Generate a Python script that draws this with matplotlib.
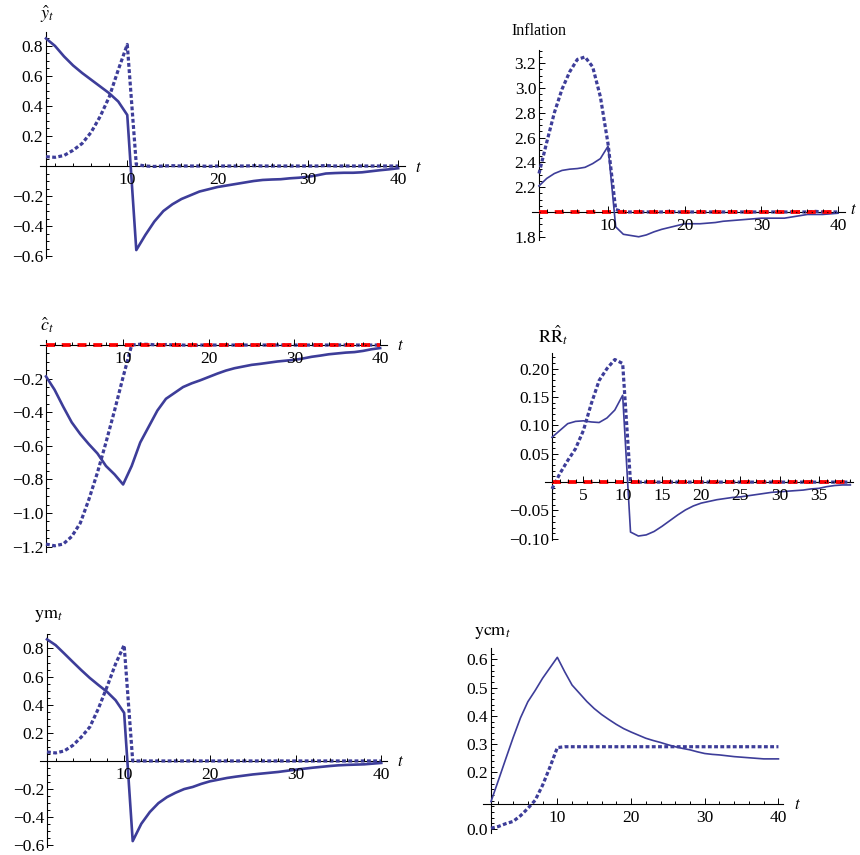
"""
Six impulse-response panels (Mathematica look): solid / dotted paths,
red dash-dot flexible-price benchmark sitting on the zero line.
"""

import matplotlib
matplotlib.use("Agg")
import matplotlib.pyplot as plt
from matplotlib.ticker import FixedLocator

plt.rcParams["font.family"] = ["Liberation Serif", "DejaVu Serif"]
plt.rcParams["mathtext.fontset"] = "stix"

# ---------------------------------------------------------------------------
# Data
# ---------------------------------------------------------------------------
t40 = list(range(1, 41))
t39 = list(range(1, 40))

# output gap y-hat
y_solid = [0.85, 0.80, 0.73, 0.67, 0.62, 0.575, 0.53, 0.485, 0.43, 0.34,
           -0.56, -0.46, -0.37, -0.30, -0.255, -0.22, -0.195, -0.17, -0.155, -0.14,
           -0.13, -0.12, -0.11, -0.10, -0.093, -0.09, -0.088, -0.082, -0.078, -0.072,
           -0.062, -0.05, -0.047, -0.045, -0.045, -0.042, -0.035, -0.028, -0.022, -0.015]
y_dotted = [0.062, 0.058, 0.07, 0.105, 0.15, 0.225, 0.33, 0.46, 0.64, 0.81,
            0.01, 0.0, -0.003, 0.0, 0.002, 0.0, 0.0, 0.0, -0.002, 0.0,
            0.0, 0.0, 0.0, 0.002, 0.0, 0.0, 0.0, 0.0, 0.0, 0.0,
            0.0, 0.003, 0.0, 0.0, 0.0, 0.0, 0.0, 0.0, 0.0, 0.0]

# inflation
pi_solid = [2.21, 2.27, 2.31, 2.335, 2.345, 2.35, 2.36, 2.39, 2.43, 2.53,
            1.88, 1.82, 1.81, 1.80, 1.815, 1.84, 1.86, 1.875, 1.89, 1.905,
            1.905, 1.905, 1.91, 1.915, 1.925, 1.93, 1.935, 1.94, 1.945, 1.95,
            1.95, 1.95, 1.95, 1.96, 1.97, 1.98, 1.98, 1.98, 1.985, 1.99]
pi_dotted = [2.31, 2.56, 2.80, 2.99, 3.13, 3.23, 3.25, 3.17, 2.93, 2.55,
             2.02, 2.0, 2.0, 2.0, 2.0, 2.0, 2.0, 2.005, 2.0, 2.0,
             2.0, 2.0, 2.0, 2.0, 2.0, 2.0, 2.0, 2.0, 2.0, 2.0,
             2.0, 2.0, 2.0, 2.0, 2.0, 2.0, 2.005, 2.0, 2.0, 2.0]
pi_flex = [2.0, 2.0, 2.0, 2.0, 2.0, 2.0, 2.0, 2.0, 2.0, 2.0,
           2.0, 2.0, 2.0, 2.0, 2.0, 2.0, 2.0, 2.0, 2.0, 2.0,
           2.0, 2.0, 2.0, 2.0, 2.0, 2.0, 2.0, 2.0, 2.0, 2.0,
           2.0, 2.0, 2.0, 2.0, 2.0, 2.0, 2.0, 2.0, 2.0, 2.0]

# consumption c-hat
c_solid = [-0.187, -0.266, -0.366, -0.46, -0.53, -0.59, -0.645, -0.72, -0.77, -0.83,
           -0.72, -0.58, -0.485, -0.39, -0.32, -0.285, -0.25, -0.228, -0.21, -0.19,
           -0.17, -0.152, -0.138, -0.128, -0.118, -0.112, -0.105, -0.098, -0.093, -0.088,
           -0.08, -0.07, -0.063, -0.055, -0.05, -0.045, -0.042, -0.035, -0.025, -0.018]
c_dotted = [-1.185, -1.195, -1.185, -1.14, -1.06, -0.92, -0.76, -0.58, -0.39, -0.19,
            0.0, 0.005, 0.004, 0.0, 0.003, 0.0, 0.0, -0.003, 0.0, 0.0,
            0.0, 0.0, 0.0, 0.0, 0.0, 0.0, 0.0, 0.0, 0.0, 0.0,
            0.0, 0.0, 0.0, 0.0, 0.0, 0.0, 0.0, 0.0, 0.0, 0.0]
c_flex = [0.0, 0.0, 0.0, 0.0, 0.0, 0.0, 0.0, 0.0, 0.0, 0.0,
          0.0, 0.0, 0.0, 0.0, 0.0, 0.0, 0.0, 0.0, 0.0, 0.0,
          0.0, 0.0, 0.0, 0.0, 0.0, 0.0, 0.0, 0.0, 0.0, 0.0,
          0.0, 0.0, 0.0, 0.0, 0.0, 0.0, 0.0, 0.0, 0.0, 0.0]

# real rate RR-hat (39 periods)
rr_solid = [0.079, 0.091, 0.103, 0.107, 0.108, 0.106, 0.105, 0.113, 0.127, 0.153,
            -0.088, -0.095, -0.093, -0.087, -0.078, -0.068, -0.058, -0.049, -0.042, -0.037,
            -0.034, -0.031, -0.029, -0.027, -0.026, -0.024, -0.022, -0.020, -0.018, -0.017,
            -0.016, -0.015, -0.014, -0.012, -0.011, -0.008, -0.006, -0.005, -0.005]
rr_dotted = [-0.012, 0.015, 0.038, 0.059, 0.091, 0.138, 0.179, 0.20, 0.216, 0.209,
             0.0, 0.0, 0.0, 0.0, 0.0, 0.0, 0.0, 0.0, 0.0, 0.0,
             0.0, 0.0, 0.0, 0.0, 0.0, 0.0, 0.0, 0.0, 0.0, 0.0,
             0.0, 0.0, 0.0, 0.0, 0.0, 0.0, 0.0, 0.0, 0.0]
rr_flex = [0.0, 0.0, 0.0, 0.0, 0.0, 0.0, 0.0, 0.0, 0.0, 0.0,
           0.0, 0.0, 0.0, 0.0, 0.0, 0.0, 0.0, 0.0, 0.0, 0.0,
           0.0, 0.0, 0.0, 0.0, 0.0, 0.0, 0.0, 0.0, 0.0, 0.0,
           0.0, 0.0, 0.0, 0.0, 0.0, 0.0, 0.0, 0.0, 0.0]

# ym
ym_solid = [0.865, 0.824, 0.765, 0.705, 0.646, 0.59, 0.54, 0.492, 0.432, 0.342,
            -0.57, -0.447, -0.363, -0.30, -0.257, -0.226, -0.20, -0.185, -0.163, -0.145,
            -0.133, -0.121, -0.112, -0.104, -0.096, -0.09, -0.084, -0.078, -0.07, -0.062,
            -0.055, -0.048, -0.042, -0.036, -0.031, -0.028, -0.026, -0.024, -0.019, -0.014]
ym_dotted = [0.064, 0.057, 0.071, 0.11, 0.17, 0.242, 0.373, 0.527, 0.69, 0.824,
             0.0, 0.0, 0.0, 0.0, 0.0, 0.0, 0.0, 0.0, 0.0, 0.0,
             0.0, 0.0, 0.0, 0.0, 0.0, 0.0, 0.0, 0.0, 0.0, 0.0,
             0.0, 0.0, 0.0, 0.0, 0.0, 0.0, 0.0, 0.0, 0.0, 0.0]

# ycm
ycm_solid = [0.097, 0.172, 0.248, 0.323, 0.393, 0.45, 0.49, 0.533, 0.57, 0.607,
             0.556, 0.509, 0.48, 0.451, 0.426, 0.405, 0.387, 0.37, 0.355, 0.343,
             0.332, 0.321, 0.313, 0.306, 0.298, 0.291, 0.285, 0.28, 0.273, 0.267,
             0.264, 0.262, 0.259, 0.256, 0.254, 0.252, 0.25, 0.248, 0.248, 0.248]
ycm_dotted = [0.003, 0.009, 0.019, 0.027, 0.047, 0.073, 0.102, 0.155, 0.219, 0.288,
              0.291, 0.291, 0.291, 0.291, 0.291, 0.291, 0.291, 0.291, 0.291, 0.291,
              0.291, 0.291, 0.291, 0.291, 0.291, 0.291, 0.291, 0.291, 0.291, 0.291,
              0.291, 0.291, 0.291, 0.291, 0.291, 0.291, 0.291, 0.291, 0.291, 0.291]

# ---------------------------------------------------------------------------
# Styling helpers
# ---------------------------------------------------------------------------
W, H = 860, 855
BLUE = (0.24, 0.24, 0.6)
DOT = (0, (1.2, 0.75))
RED_DASH = (0, (2.4, 1.8))


def fmt_tick(v, nd):
    s = f"{abs(v):.{nd}f}"
    return ("\u2212" + s) if v < 0 else s


def make_axes(fig, box, xlim, ylim, origin, xmajor, xminor, ymajor, yminor, nd):
    left, top, right, bottom = box
    ax = fig.add_axes([left / W, 1 - bottom / H, (right - left) / W, (bottom - top) / H])
    ax.patch.set_alpha(0)
    ax.set_xlim(xlim)
    ax.set_ylim(ylim)
    for s in ("top", "right"):
        ax.spines[s].set_visible(False)
    ax.spines["left"].set_position(("data", 1))
    ax.spines["bottom"].set_position(("data", origin))
    for s in ("left", "bottom"):
        ax.spines[s].set_linewidth(0.8)
        ax.spines[s].set_zorder(2)
    ax.xaxis.set_major_locator(FixedLocator(xmajor))
    ax.xaxis.set_minor_locator(FixedLocator(xminor))
    ax.yaxis.set_major_locator(FixedLocator(ymajor))
    ax.yaxis.set_minor_locator(FixedLocator(yminor))
    ax.set_xticklabels([str(v) for v in xmajor])
    ax.set_yticklabels([fmt_tick(v, nd) for v in ymajor])
    ax.tick_params(which="both", direction="in", width=0.7, labelsize=12.5)
    ax.tick_params(axis="y", pad=2)
    ax.tick_params(axis="x", pad=4.5)
    ax.tick_params(which="major", length=4.5)
    ax.tick_params(which="minor", length=2.5)
    # ticks drawn over the curves, as in the original
    ax.xaxis.set_zorder(6)
    return ax


def zero_line(ax, t, vals):
    ax.plot(t, vals, color="red", lw=2.7, ls=RED_DASH, zorder=5)
    ax.plot(t, vals, color="black", lw=0.8, ls=(0, (1, 6)), zorder=5)


def px_text(fig, x, y, s, **kw):
    fig.text(x / W, 1 - y / H, s, **kw)


def steps(a, b, d):
    out = []
    v = a
    while v <= b + 1e-9:
        out.append(round(v, 4))
        v += d
    return out


fig = plt.figure(figsize=(8.6, 8.55), dpi=100)
xmaj = [10, 20, 30, 40]
xmin = steps(2, 40, 2)

# --- y-hat ---------------------------------------------------------------
ax = make_axes(fig, (40, 32, 405, 258), (0.336, 40.76), (-0.613, 0.893), 0.0,
               xmaj, xmin, [-0.6, -0.4, -0.2, 0.2, 0.4, 0.6, 0.8],
               steps(-0.6, 0.85, 0.05), 1)
ax.plot(t40, y_dotted, color=BLUE, lw=2.3, ls=DOT, zorder=3)
ax.plot(t40, y_solid, color=BLUE, lw=1.9, zorder=4)
px_text(fig, 40, 14, r"$\hat{y}_t$", fontsize=13, va="center")
px_text(fig, 415, 168, r"$t$", fontsize=12, va="center")

# --- inflation -------------------------------------------------------------
ax = make_axes(fig, (532, 50, 845, 240), (0.087, 40.9), (1.774, 3.306), 2.0,
               xmaj, xmin, [1.8, 2.2, 2.4, 2.6, 2.8, 3.0, 3.2],
               steps(1.8, 3.3, 0.05), 1)
ax.plot(t40, pi_dotted, color=BLUE, lw=2.3, ls=DOT, zorder=3)
ax.plot(t40, pi_solid, color=BLUE, lw=1.2, zorder=4)
zero_line(ax, t40, pi_flex)
px_text(fig, 511, 31, "Inflation", fontsize=11.5, va="center")
px_text(fig, 850, 210, r"$t$", fontsize=12, va="center")

# --- c-hat -----------------------------------------------------------------
ax = make_axes(fig, (40, 340, 387, 552), (0.30, 40.8), (-1.232, 0.03), 0.0,
               xmaj, xmin, [-1.2, -1.0, -0.8, -0.6, -0.4, -0.2],
               steps(-1.2, 0.0, 0.05), 1)
ax.plot(t40, c_dotted, color=BLUE, lw=2.3, ls=DOT, zorder=3)
ax.plot(t40, c_solid, color=BLUE, lw=1.9, zorder=4)
zero_line(ax, t40, c_flex)
px_text(fig, 40, 325, r"$\hat{c}_t$", fontsize=13, va="center")
px_text(fig, 397, 346, r"$t$", fontsize=12, va="center")

# --- RR-hat ----------------------------------------------------------------
ax = make_axes(fig, (545, 353, 853, 540), (0.108, 39.34), (-0.102, 0.2275), 0.0,
               [5, 10, 15, 20, 25, 30, 35], steps(1, 39, 1),
               [-0.10, -0.05, 0.05, 0.10, 0.15, 0.20], steps(-0.10, 0.22, 0.01), 2)
ax.plot(t39, rr_dotted, color=BLUE, lw=2.3, ls=DOT, zorder=3)
ax.plot(t39, rr_solid, color=BLUE, lw=1.2, zorder=4)
zero_line(ax, t39, rr_flex)
px_text(fig, 538, 335, r"$\mathrm{R}\hat{\mathrm{R}}_t$", fontsize=13, va="center")

# --- ym --------------------------------------------------------------------
ax = make_axes(fig, (40, 634, 387, 847), (0.183, 40.67), (-0.612, 0.903), 0.0,
               xmaj, xmin, [-0.6, -0.4, -0.2, 0.2, 0.4, 0.6, 0.8],
               steps(-0.6, 0.9, 0.05), 1)
ax.plot(t40, ym_dotted, color=BLUE, lw=2.3, ls=DOT, zorder=3)
ax.plot(t40, ym_solid, color=BLUE, lw=1.9, zorder=4)
px_text(fig, 34, 615, r"$\mathrm{ym}_t$", fontsize=13, va="center")
px_text(fig, 397, 762, r"$t$", fontsize=12, va="center")

# --- ycm -------------------------------------------------------------------
ax = make_axes(fig, (483, 648, 783, 833), (-0.085, 40.62), (-0.014, 0.64), 0.09,
               xmaj, xmin, [0.0, 0.2, 0.3, 0.4, 0.5, 0.6],
               steps(0.0, 0.62, 0.02), 1)
ax.plot(t40, ycm_dotted, color=BLUE, lw=2.3, ls=DOT, zorder=3)
ax.plot(t40, ycm_solid, color=BLUE, lw=1.2, zorder=4)
px_text(fig, 474, 632, r"$\mathrm{ycm}_t$", fontsize=13, va="center")
px_text(fig, 794, 805, r"$t$", fontsize=12, va="center")

fig.savefig("out.png", dpi=100)
